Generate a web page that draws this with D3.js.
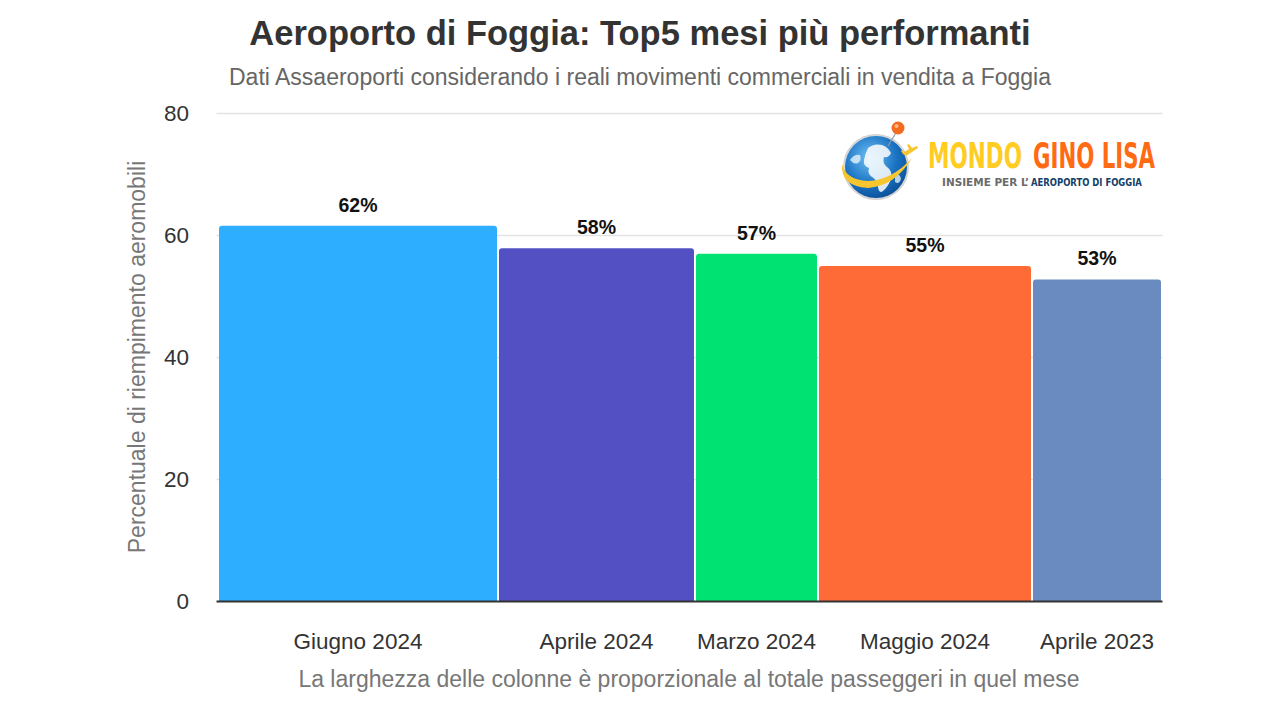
<!DOCTYPE html>
<html><head><meta charset="utf-8">
<script src="https://cdn.jsdelivr.net/npm/d3@7"></script>
<style>body{margin:0;background:#fff}svg{display:block}</style>
</head><body>
<svg id="c" width="1280" height="720"></svg>
<script>
const months = ["Giugno 2024","Aprile 2024","Marzo 2024","Maggio 2024","Aprile 2023"];
const fillPct = [61.6, 57.9, 57.0, 55.0, 52.8];
const passengers = [28000, 19700, 12300, 21400, 13000];
const colors = ["#2DAEFF","#5350C4","#00E272","#FF6B37","#6A8BBF"];
const yTicks = [0,20,40,60,80];

const svg = d3.select("#c");
const font = "'Liberation Sans', Arial, sans-serif";
const pLeft = 218.5, pRight = 1162.5, pTop = 113.5, pBottom = 601.5;

const total = d3.sum(passengers);
const cum = passengers.map((d,i)=>d3.sum(passengers.slice(0,i)));
const x = d3.scaleLinear().domain([0,total]).range([pLeft,pRight]);
const y = d3.scaleLinear().domain([0,80]).range([pBottom,pTop]);

// gridlines
svg.append("g").selectAll("line").data(yTicks.filter(d=>d>0)).join("line")
  .attr("x1",pLeft-2).attr("x2",pRight).attr("y1",d=>y(d)).attr("y2",d=>y(d))
  .attr("stroke","#e3e3e3").attr("stroke-width",1.5);

// y tick labels
svg.append("g").selectAll("text").data(yTicks).join("text")
  .attr("x",189).attr("y",d=>y(d)).attr("dy","0.35em").attr("text-anchor","end")
  .attr("font-family",font).attr("font-size",22.5).attr("fill","#333").text(d=>d);

// bars
const path = (x0,x1,y0,y1,r)=>`M${x0},${y1}V${y0+r}Q${x0},${y0} ${x0+r},${y0}H${x1-r}Q${x1},${y0} ${x1},${y0+r}V${y1}Z`;
svg.append("g").selectAll("path").data(months).join("path")
  .attr("d",(d,i)=>path(x(cum[i])+0.5, x(cum[i]+passengers[i])-1.5, y(fillPct[i]), pBottom, 3))
  .attr("fill",(d,i)=>colors[i]);

// value labels
svg.append("g").selectAll("text").data(months).join("text")
  .attr("x",(d,i)=>(x(cum[i])+x(cum[i]+passengers[i]))/2 - 0.5)
  .attr("y",(d,i)=>y(fillPct[i])-14)
  .attr("text-anchor","middle").attr("font-family",font).attr("font-weight","bold")
  .attr("font-size",19.5).attr("fill","#111").text((d,i)=>Math.round(fillPct[i])+"%");

// axis line
svg.append("line").attr("x1",pLeft-2).attr("x2",pRight).attr("y1",pBottom).attr("y2",pBottom)
  .attr("stroke","#333").attr("stroke-width",2);

// x labels
svg.append("g").selectAll("text").data(months).join("text")
  .attr("x",(d,i)=>(x(cum[i])+x(cum[i]+passengers[i]))/2 - 0.5)
  .attr("y",649).attr("text-anchor","middle").attr("font-family",font)
  .attr("font-size",22.5).attr("fill","#333").text(d=>d);

// titles
svg.append("text").attr("x",640).attr("y",45).attr("text-anchor","middle")
  .attr("font-family",font).attr("font-weight","bold").attr("font-size",34.5).attr("fill","#333")
  .text("Aeroporto di Foggia: Top5 mesi più performanti");
svg.append("text").attr("x",640).attr("y",85).attr("text-anchor","middle")
  .attr("font-family",font).attr("font-size",23).attr("fill","#666")
  .text("Dati Assaeroporti considerando i reali movimenti commerciali in vendita a Foggia");
svg.append("text").attr("x",689).attr("y",687).attr("text-anchor","middle")
  .attr("font-family",font).attr("font-size",23).attr("fill","#777")
  .text("La larghezza delle colonne è proporzionale al totale passeggeri in quel mese");
svg.append("text").attr("transform","translate(145,357) rotate(-90)").attr("text-anchor","middle")
  .attr("font-family",font).attr("font-size",23).attr("fill","#777")
  .text("Percentuale di riempimento aeromobili");

// logo
const logo = svg.append("g");
const defs = svg.append("defs");
const rg = defs.append("radialGradient").attr("id","gl").attr("cx","40%").attr("cy","35%").attr("r","70%");
rg.append("stop").attr("offset","0%").attr("stop-color","#6FC2F5");
rg.append("stop").attr("offset","60%").attr("stop-color","#1C74C4");
rg.append("stop").attr("offset","100%").attr("stop-color","#0B4F96");
const sg = defs.append("radialGradient").attr("id","sh").attr("cx","50%").attr("cy","50%").attr("r","50%");
sg.append("stop").attr("offset","80%").attr("stop-color","#fff");
sg.append("stop").attr("offset","100%").attr("stop-color","#ccc");
logo.append("circle").attr("cx",876).attr("cy",167).attr("r",33).attr("fill","url(#sh)");
logo.append("circle").attr("cx",876).attr("cy",167).attr("r",31).attr("fill","url(#gl)");
logo.append("path").attr("d","M868,148 q6,-5 14,-3 q6,2 9,8 q-2,5 -7,4 q-2,6 3,10 q6,4 4,12 q-3,8 -8,12 q-4,3 -5,-4 q-1,-7 -6,-10 q-5,-3 -3,-9 q-6,-2 -5,-8 q1,-6 4,-12z")
  .attr("fill","#fff").attr("opacity",0.85);
logo.append("path").attr("d","M850,160 q4,-6 10,-5 q2,5 -2,8 q-4,2 -8,-3z M895,175 q5,-2 6,4 q-2,6 -6,3z")
  .attr("fill","#fff").attr("opacity",0.7);
logo.append("path").attr("d","M842,164 Q840,186 868,188 Q895,186 912,158 Q892,180 868,181 Q846,180 842,164z")
  .attr("fill","#F7C62F");
logo.append("path").attr("d","M906,156 l12,-8 l-1,-2 l-5,2 l-3,-4 l-2,1 l2,4 l-5,3 l-2,-2 l-1,1 l2,3z").attr("fill","#F7C62F");
logo.append("line").attr("x1",897).attr("y1",131).attr("x2",888).attr("y2",146).attr("stroke","#999").attr("stroke-width",1.2);
logo.append("circle").attr("cx",898).attr("cy",128).attr("r",6.5).attr("fill","#F36B21");
logo.append("circle").attr("cx",896.5).attr("cy",126).attr("r",2).attr("fill","#FFB68A");
const lf = "'DejaVu Sans Condensed','DejaVu Sans',sans-serif";
function fitText(tx, ty, w, size, fill, str){
  const t = logo.append("text").attr("font-family",lf).attr("font-weight","bold")
    .attr("font-size",size).attr("fill",fill).text(str);
  const n = t.node().getComputedTextLength();
  t.attr("transform",`translate(${tx},${ty}) scale(${w/n},1)`);
}
fitText(928, 168, 94, 36, "#FFCC22", "MONDO");
fitText(1033, 168, 122, 36, "#FF6A13", "GINO LISA");
fitText(942, 186, 87, 11, "#6b6b6b", "INSIEME PER L’");
fitText(1031, 186, 111, 11, "#12416B", "AEROPORTO DI FOGGIA");
</script>
</body></html>
